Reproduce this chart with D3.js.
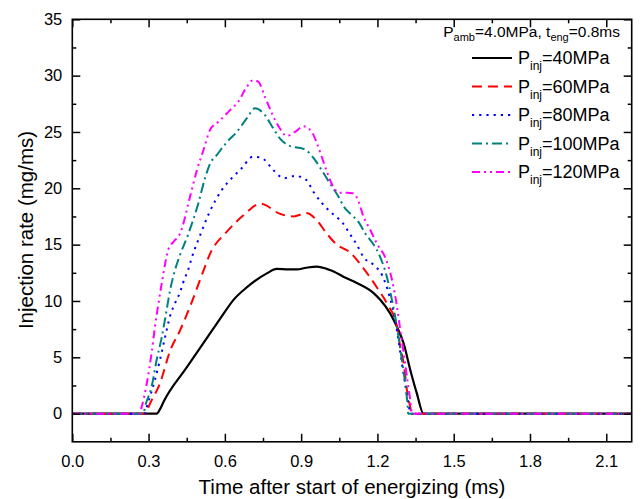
<!DOCTYPE html>
<html><head><meta charset="utf-8">
<script src="https://cdn.jsdelivr.net/npm/d3@7"></script>
<style>body{margin:0;background:#fff}svg{display:block}text{font-family:"Liberation Sans",Arial,sans-serif}</style>
</head><body><svg id="c" width="644" height="499"></svg>
<script>
const xTicks = [0, 0.3, 0.6, 0.9, 1.2, 1.5, 1.8, 2.1];
const xTickLabels = ["0.0","0.3","0.6","0.9","1.2","1.5","1.8","2.1"];
const yTicks = [0, 5, 10, 15, 20, 25, 30, 35];
const yTickLabels = ["0","5","10","15","20","25","30","35"];
const seriesNames = ["40MPa","60MPa","80MPa","100MPa","120MPa"];
const pinj40 = [[0,0],[0.332,0],[0.345,0.4],[0.36,1.1],[0.45,4.1],[0.529,6.7],[0.581,8.4],[0.634,10.1],[0.686,11.2],[0.765,12.45],[0.804,12.85],[0.85,12.8],[0.883,12.8],[0.92,12.95],[0.962,13.05],[1.0,12.85],[1.03,12.6],[1.066,12.15],[1.119,11.6],[1.185,10.7],[1.211,10.1],[1.25,8.9],[1.277,7.7],[1.303,6.25],[1.329,3.9],[1.355,1.8],[1.381,0],[2.2,0]];
const pinj60 = [[0,0],[0.29,0],[0.30,0.6],[0.345,2.7],[0.385,5.6],[0.424,7.4],[0.463,9.5],[0.516,12.7],[0.542,14.2],[0.608,16.15],[0.673,17.6],[0.74,18.65],[0.76,18.5],[0.81,17.8],[0.87,17.5],[0.92,17.8],[0.96,17.2],[1.0,16.0],[1.04,15.0],[1.09,14.35],[1.145,12.9],[1.198,11.2],[1.237,9.8],[1.277,7.7],[1.29,5.9],[1.303,4.5],[1.316,2.1],[1.329,0.6],[1.335,0],[2.2,0]];
const pinj80 = [[0,0],[0.285,0],[0.293,0.6],[0.325,3.0],[0.345,4.8],[0.365,6.8],[0.385,8.7],[0.404,9.8],[0.424,10.8],[0.437,11.7],[0.457,12.85],[0.47,13.85],[0.503,15.85],[0.538,17.8],[0.588,19.85],[0.627,20.9],[0.667,21.8],[0.71,22.8],[0.735,22.75],[0.752,22.6],[0.791,21.6],[0.833,20.9],[0.876,21.1],[0.92,20.75],[0.948,19.7],[0.981,18.7],[1.021,17.8],[1.064,16.9],[1.093,15.9],[1.119,15.0],[1.145,13.9],[1.185,13.2],[1.218,12.3],[1.25,10.2],[1.27,8.3],[1.283,6.5],[1.296,4.5],[1.309,2.7],[1.322,0.9],[1.33,0],[2.2,0]];
const pinj100 = [[0,0],[0.28,0],[0.286,0.6],[0.312,2.4],[0.332,4.8],[0.352,6.8],[0.371,9.2],[0.385,11.0],[0.404,12.75],[0.424,14.1],[0.457,16.0],[0.496,18.7],[0.522,20.9],[0.542,22.2],[0.568,22.95],[0.608,24.1],[0.647,25.0],[0.686,26.2],[0.719,27.1],[0.752,26.65],[0.791,25.3],[0.817,24.4],[0.857,23.75],[0.909,23.5],[0.929,23.2],[0.955,22.5],[0.981,21.6],[1.014,20.4],[1.047,19.25],[1.067,18.4],[1.1,17.6],[1.126,17.0],[1.152,16.0],[1.185,15.0],[1.211,13.9],[1.237,12.15],[1.257,10.1],[1.27,8.6],[1.283,6.8],[1.296,4.8],[1.309,2.7],[1.318,0.9],[1.321,0],[2.2,0]];
const pinj120 = [[0,0],[0.265,0],[0.273,0.6],[0.293,2.7],[0.312,5.4],[0.325,7.7],[0.339,9.8],[0.352,11.6],[0.365,13.3],[0.378,14.6],[0.40,15.3],[0.424,16.0],[0.463,19.25],[0.49,21.6],[0.516,23.4],[0.542,25.2],[0.575,25.9],[0.621,26.95],[0.653,27.7],[0.686,29.0],[0.712,29.6],[0.732,29.45],[0.758,28.1],[0.785,26.65],[0.811,25.5],[0.844,24.65],[0.876,25.0],[0.909,25.5],[0.942,25.0],[0.962,24.0],[0.981,22.8],[1.001,21.5],[1.027,20.1],[1.053,19.6],[1.08,19.6],[1.106,19.55],[1.126,18.8],[1.145,17.5],[1.172,16.3],[1.20,15.0],[1.23,13.9],[1.257,11.9],[1.277,9.5],[1.29,7.4],[1.303,5.4],[1.316,3.3],[1.329,1.2],[1.336,0],[2.2,0]];
const seriesData = [pinj40, pinj60, pinj80, pinj100, pinj120];
const colors = ["#000000","#ff0000","#0000ff","#008080","#ff00ff"];
const dashes = [null, "10,6", "2.2,5", "10,4,2,4", "8,4,2,4,2,4"];

const svg = d3.select("#c");
const L = 72.3, R = 631.7, T = 19.3, B = 441.8;
const x = d3.scaleLinear().domain([0, 2.2]).range([L, R]);
const y = d3.scaleLinear().domain([-2.5, 35]).range([B, T]);

svg.append("rect").attr("width",644).attr("height",499).attr("fill","#fff");

const line = d3.line().x(d=>x(d[0])).y(d=>y(d[1])).curve(d3.curveMonotoneX);
seriesData.forEach((s,i)=>{
  svg.append("path").datum(s).attr("d", line).attr("fill","none")
    .attr("stroke", colors[i]).attr("stroke-width", i===0?2.2:2)
    .attr("stroke-dasharray", dashes[i]);
});

// axes
const xMinor = d3.range(0.15, 2.2, 0.3);
const yMinor = d3.range(2.5, 35, 5);
function axis(gen, scale, vals, size, labels){
  return gen(scale).tickValues(vals).tickSize(size).tickPadding(8)
    .tickFormat(labels ? (d,i)=>labels[i] : "");
}
const fs = "16.5px";
let g;
g = svg.append("g").attr("transform",`translate(0,${B})`).call(axis(d3.axisBottom, x, xTicks, -8, xTickLabels));
g.selectAll("text").attr("y",13).attr("dy","0.71em").attr("font-size",fs);
svg.append("g").attr("transform",`translate(0,${B})`).call(axis(d3.axisBottom, x, xMinor, -4));
svg.append("g").attr("transform",`translate(0,${T})`).call(axis(d3.axisTop, x, xTicks, -8));
svg.append("g").attr("transform",`translate(0,${T})`).call(axis(d3.axisTop, x, xMinor, -4));
g = svg.append("g").attr("transform",`translate(${L},0)`).call(axis(d3.axisLeft, y, yTicks, -8, yTickLabels));
g.selectAll("text").attr("font-size",fs).attr("x",-10);
svg.append("g").attr("transform",`translate(${L},0)`).call(axis(d3.axisLeft, y, yMinor, -4));
svg.append("g").attr("transform",`translate(${R},0)`).call(axis(d3.axisRight, y, yTicks, -8));
svg.append("g").attr("transform",`translate(${R},0)`).call(axis(d3.axisRight, y, yMinor, -4));
svg.selectAll(".domain").remove();
svg.selectAll(".tick line").attr("stroke","#000").attr("stroke-width",1.5);
svg.selectAll(".tick text").attr("fill","#000").attr("font-family","Liberation Sans, Arial, sans-serif");
svg.append("rect").attr("x",L).attr("y",T).attr("width",R-L).attr("height",B-T)
  .attr("fill","none").attr("stroke","#000").attr("stroke-width",1.6);

// titles
svg.append("text").attr("x",(L+R)/2).attr("y",494).attr("text-anchor","middle")
  .attr("font-size","20.5px").text("Time after start of energizing (ms)");
svg.append("text").attr("transform",`translate(33,230) rotate(-90)`).attr("text-anchor","middle")
  .attr("font-size","20.5px").text("Injection rate (mg/ms)");

// legend
const lt = svg.append("text").attr("x",620).attr("y",37).attr("text-anchor","end").attr("font-size","15.5px");
lt.append("tspan").text("P");
lt.append("tspan").attr("font-size","11px").attr("dy",4).text("amb");
lt.append("tspan").attr("dy",-4).text("=4.0MPa, t");
lt.append("tspan").attr("font-size","11px").attr("dy",4).text("eng");
lt.append("tspan").attr("dy",-4).text("=0.8ms");

seriesNames.forEach((n,i)=>{
  const yy = 58 + i*28.5;
  svg.append("line").attr("x1",472).attr("x2",512).attr("y1",yy).attr("y2",yy)
    .attr("stroke",colors[i]).attr("stroke-width",2).attr("stroke-dasharray",dashes[i]);
  const t = svg.append("text").attr("x",518).attr("y",yy+6).attr("font-size","18px");
  t.append("tspan").text("P");
  t.append("tspan").attr("font-size","12px").attr("dy",6).text("inj");
  t.append("tspan").attr("dy",-6).text("=" + n);
});
</script></body></html>
